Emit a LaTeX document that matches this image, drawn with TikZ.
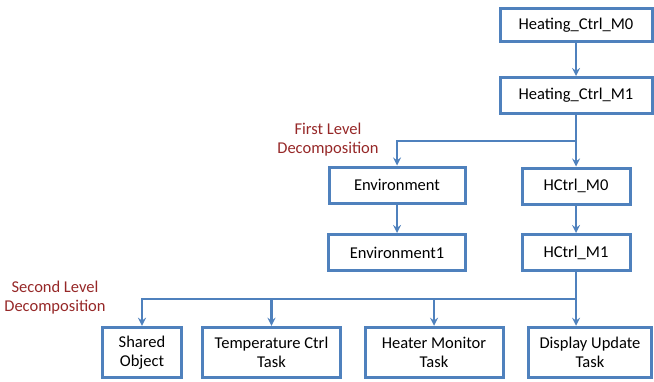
\documentclass[tikz,border=0pt]{standalone}
\usepackage{fontspec}
\setmainfont{Carlito}
\usepackage{tikz}
\definecolor{boxblue}{RGB}{79,129,189}
\definecolor{notered}{RGB}{150,40,40}
\tikzstyle{box}       = [draw=boxblue,line width=3pt,fill=white,minimum height=36pt,inner sep=0pt,align=center,font=\fontsize{16.5}{19}\selectfont]
\tikzstyle{arrow}     = [draw=boxblue,line width=2.5pt,->,>=stealth]
\tikzstyle{note}      = [text=notered,align=center,font=\fontsize{16.5}{19}\selectfont]

\begin{document}
\begin{tikzpicture}[x=1pt,y=-1pt]
          \useasboundingbox (0, 0) rectangle (654, 381);
          \node[box,minimum width=152pt,minimum height=33pt](hm0)at(576, 25){Heating\_Ctrl\_M0};
          \node[box,minimum width=152pt](hm1)at(576, 95.5){Heating\_Ctrl\_M1};
          \node[box,minimum width=136pt](env)at(397, 185){Environment};
          \node[box,minimum width=108pt](hc0)at(576, 186){HCtrl\_M0};
          \node[box,minimum width=137pt](env1)at(397, 252.5){Environment1};
          \node[box,minimum width=108pt](hc1)at(576, 252.5){HCtrl\_M1};
          \node[box,minimum width=79pt,minimum height=50.5pt](shared)at(142, 352.5){Shared\\Object};
          \node[box,minimum width=138pt,minimum height=50.5pt](temp)at(271.5, 352.5){Temperature Ctrl\\Task};
          \node[box,minimum width=138pt,minimum height=50.5pt](heater)at(434, 352.5){Heater Monitor\\Task};
          \node[box,minimum width=123pt,minimum height=50.5pt](disp)at(590, 352.5){Display Update\\Task};
          \node[note](lvl1)at(328, 140){First Level\\Decomposition};
          \node[note](lvl2)at(55, 298){Second Level\\Decomposition};
          \coordinate (split1) at (576, 141);
          \coordinate (split2) at (576, 299);
          \draw[arrow](hm0)--(hm1);
          \draw[arrow](hm1)--(hc0);
          \draw[arrow](split1)-|(env.north);
          \draw[arrow](env)--(env1);
          \draw[arrow](hc0)--(hc1);
          \draw[arrow](hc1.south)--(split2 |- disp.north);
          \draw[arrow](split2)-|(shared.north);
          \draw[arrow](split2)-|(temp.north);
          \draw[arrow](split2)-|(heater.north);
      \end{tikzpicture}
\end{document}
